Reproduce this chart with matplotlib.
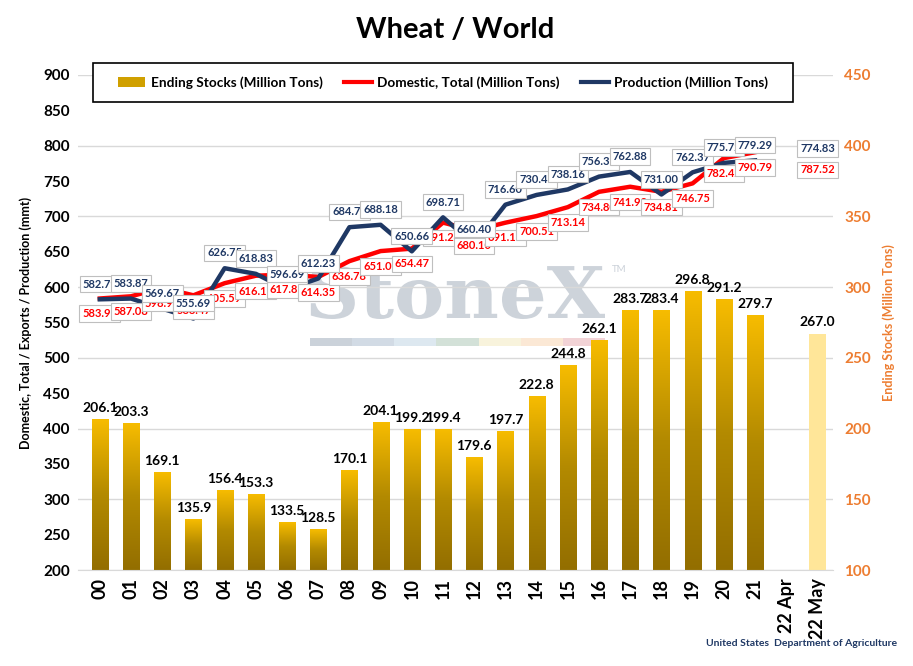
import numpy as np
import matplotlib.pyplot as plt
from matplotlib.colors import LinearSegmentedColormap
from matplotlib.patches import Patch, PathPatch, Rectangle
from matplotlib.lines import Line2D
from matplotlib.textpath import TextPath
from matplotlib.font_manager import FontProperties
from matplotlib.transforms import Affine2D

plt.rcParams['font.family'] = ['Lato', 'DejaVu Sans']

years = ["00", "01", "02", "03", "04", "05", "06", "07", "08", "09", "10", "11",
         "12", "13", "14", "15", "16", "17", "18", "19", "20", "21", "22 Apr", "22 May"]

# 期末库存 (million tons)
stocks = [206.1, 203.3, 169.1, 135.9, 156.4, 153.3, 133.5, 128.5, 170.1, 204.1, 199.2, 199.4,
          179.6, 197.7, 222.8, 244.8, 262.1, 283.7, 283.4, 296.8, 291.2, 279.7, np.nan, 267.0]

# 国内消费
domestic = [583.96, 587.08, 598.90, 588.47, 605.59, 616.15, 617.85, 614.35, 636.78, 651.01,
            654.47, 691.24, 680.10, 691.16, 700.51, 713.14, 734.80, 741.98, 734.81, 746.75,
            782.42, 790.79, np.nan, 787.52]

# 产量
production = [582.79, 583.87, 569.67, 555.69, 626.75, 618.83, 596.69, 612.23, 684.78, 688.18,
              650.66, 698.71, 660.40, 716.60, 730.41, 738.16, 756.31, 762.88, 731.00, 762.37,
              775.72, 779.29, np.nan, 774.83]

NAVY = '#1F3864'
ORANGE = '#ED7D31'

fig = plt.figure(figsize=(9.13, 6.66), dpi=100)
ax2 = fig.add_axes([0.0854, 0.1441, 0.827, 0.7433])
ax1 = ax2.twinx()
ax1.set_zorder(ax2.get_zorder() + 1)
ax1.patch.set_visible(False)

x = np.arange(len(years))
w = 0.52

# 水印
tp = TextPath((0, 0), "StoneX", size=1, prop=FontProperties(family='DejaVu Serif', weight='bold'))
ext = tp.get_extents()
W, H = 913.0, 666.0
sx = (605 - 310) / W / ext.width
sy = (318 - 266) / H / 0.73
tr = Affine2D().translate(-ext.x0, 0).scale(sx, sy).translate(310 / W, 1 - 318 / H) + fig.transFigure
ax2.add_patch(PathPatch(tp, transform=tr, facecolor='#CDD3DA', edgecolor='none', zorder=0.5))
ax2.text(612 / W, 1 - 272 / H, "TM", transform=fig.transFigure, fontsize=7, color='#CBD1D9', zorder=0.5)
strip = ['#CBD2DA', '#D2DBE5', '#DDE8F0', '#D3E1D8', '#F8F3DC', '#FBE8D5', '#F2D3D6']
sw = (605 - 310) / 7
for k, c in enumerate(strip):
    ax2.add_patch(Rectangle(((310 + k * sw) / W, 1 - 346 / H), sw / W, 8 / H,
                            transform=fig.transFigure, facecolor=c, edgecolor='none', zorder=0.5))

# 渐变柱状图
cmap = LinearSegmentedColormap.from_list('gold', ['#936E00', '#B38A00', '#F7BC00'])
grad = np.linspace(0, 1, 256).reshape(-1, 1)
for i, v in enumerate(stocks):
    if np.isnan(v):
        continue
    if years[i] == "22 May":
        ax2.bar(i, v - 100, bottom=100, width=w, color='#FFE699', zorder=2)
    else:
        ax2.imshow(grad, extent=(i - w / 2, i + w / 2, 100, v), origin='lower',
                   cmap=cmap, aspect='auto', zorder=2)
    ax2.annotate(f"{v:.1f}", (i, v), xytext=(0, 4), textcoords='offset points',
                 ha='center', va='bottom', fontsize=10, fontweight='bold', color='black', zorder=3)

ax2.set_xlim(-0.7, 23.5)
ax2.set_ylim(100, 450)
ax2.set_yticks(np.arange(100, 451, 50))
ax2.yaxis.tick_right()
ax2.yaxis.set_label_position('right')
ax2.tick_params(axis='y', length=0, labelcolor=ORANGE, labelsize=11, pad=8)
for t in ax2.get_yticklabels():
    t.set_fontweight('bold')
ax2.set_ylabel("Ending Stocks (Million Tons)", color=ORANGE, fontsize=9, fontweight='bold', labelpad=8)
ax2.grid(axis='y', color='#D9D9D9', lw=1)
ax2.set_axisbelow(True)
for s in ['top', 'left', 'right']:
    ax2.spines[s].set_visible(False)
ax2.spines['bottom'].set_color('#D9D9D9')
ax2.set_xticks(x)
ax2.set_xticklabels(years, rotation=90, fontsize=13, fontweight='bold')
ax2.tick_params(axis='x', length=0, pad=6)

# 折线
ax1.plot(x, domestic, color='#FF0000', lw=3.2, zorder=3)
ax1.plot(x, production, color=NAVY, lw=3.2, zorder=3)
ax1.set_ylim(200, 900)
ax1.set_yticks(np.arange(200, 901, 50))
ax1.yaxis.tick_left()
ax1.yaxis.set_label_position('left')
ax1.tick_params(axis='y', length=0, labelsize=11, pad=6)
for t in ax1.get_yticklabels():
    t.set_fontweight('bold')
ax1.set_ylabel("Domestic, Total / Exports / Production (mmt)", fontsize=9, fontweight='bold', labelpad=8)
for s in ax1.spines.values():
    s.set_visible(False)

box = dict(boxstyle='square,pad=0.25', fc='white', ec='#BFBFBF', lw=0.8)
for i, v in enumerate(domestic):
    if np.isnan(v):
        continue
    ax1.annotate(f"{v:.2f}", (i, v), xytext=(0, -11), textcoords='offset points',
                 ha='center', va='center', fontsize=8, fontweight='bold', color='#FF0000',
                 bbox=box, zorder=5)
for i, v in enumerate(production):
    if np.isnan(v):
        continue
    ax1.annotate(f"{v:.2f}", (i, v), xytext=(0, 11), textcoords='offset points',
                 ha='center', va='center', fontsize=8, fontweight='bold', color=NAVY,
                 bbox=box, zorder=6)

fig.text(0.498, 1 - 30 / H, "Wheat / World", ha='center', va='center', fontsize=21, fontweight='bold')

# 图例外框
fig.patches.append(Rectangle((93 / W, 1 - 102 / H), 700 / W, 39 / H, transform=fig.transFigure,
                             facecolor='white', edgecolor='black', lw=1.2, zorder=4))
handles = [Patch(facecolor='#D0A000', edgecolor='none'),
           Line2D([], [], color='#FF0000', lw=3),
           Line2D([], [], color=NAVY, lw=3)]
labels = ["Ending Stocks (Million Tons)", "Domestic, Total (Million Tons)", "Production (Million Tons)"]
leg = fig.legend(handles, labels, ncol=3,
                 bbox_to_anchor=(93 / W, 1 - 102 / H, 700 / W, 39 / H), loc='center',
                 frameon=False, prop={'weight': 'bold', 'size': 9.8}, handlelength=2.0,
                 handletextpad=0.4, columnspacing=1.6, borderaxespad=0)
leg.set_zorder(5)

fig.text(897 / W, 1 - 643 / H, "United States  Department of Agriculture", ha='right', va='center',
         fontsize=7.5, fontweight='bold', color=NAVY)

fig.savefig('out.png', dpi=100)
